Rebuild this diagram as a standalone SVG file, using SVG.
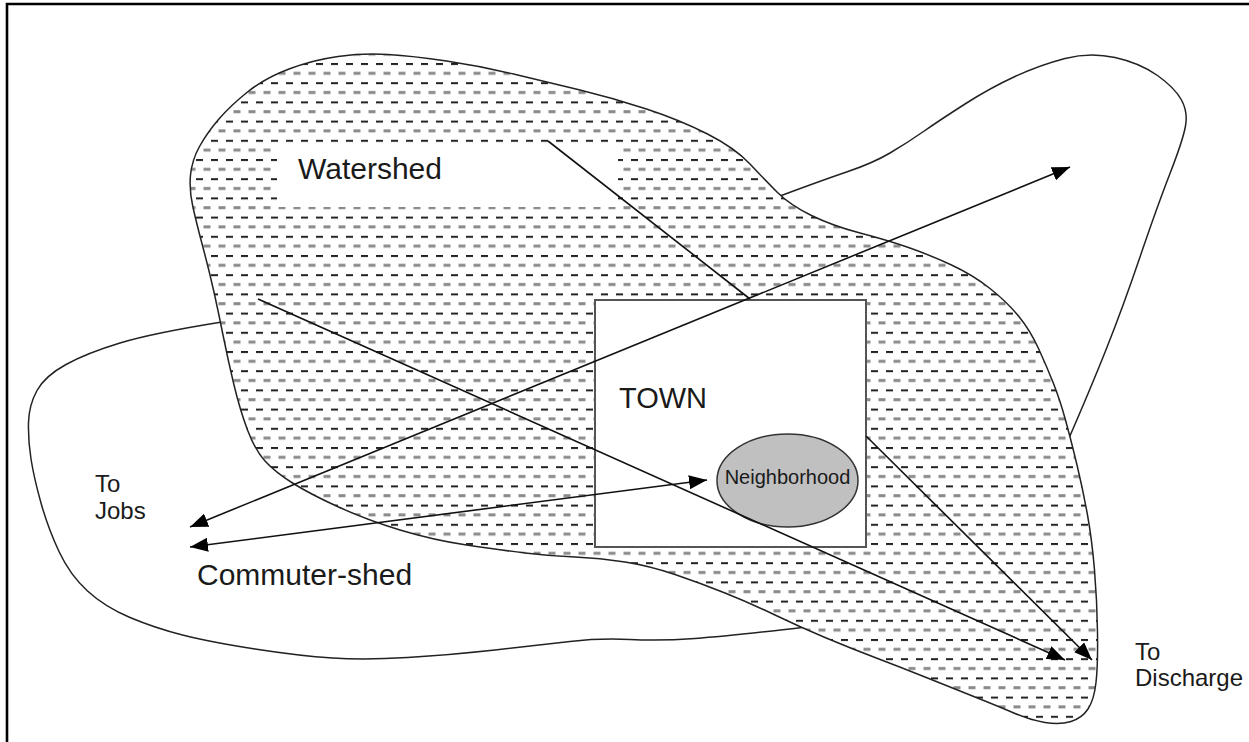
<svg xmlns="http://www.w3.org/2000/svg" width="1249" height="742" viewBox="0 0 1249 742">
<style>
.outline{fill:none;stroke:#222;stroke-width:1.5;stroke-linejoin:round}
.conn{fill:none;stroke:#111;stroke-width:1.6}
.lbl{font-family:"Liberation Sans",Arial,sans-serif;fill:#1a1a1a}
</style>
<defs>
<pattern id="hatch" patternUnits="userSpaceOnUse" x="0" y="5.4" width="15" height="19.2">
<rect x="0" y="0" width="15" height="19.2" fill="#fff"/>
<rect x="1" y="0" width="7" height="2" fill="#222"/>
<rect x="8.5" y="8.8" width="7" height="3" fill="#8a8a8a"/>
<rect x="-6.5" y="8.8" width="7" height="3" fill="#8a8a8a"/>
</pattern>
<marker id="ah" markerWidth="18" markerHeight="14" refX="18" refY="7" orient="auto-start-reverse" markerUnits="userSpaceOnUse">
<path d="M0,0 L18,7 L0,14 z" fill="#000"/>
</marker>
</defs>
<rect x="0" y="0" width="1249" height="742" fill="#fff"/>
<path d="M7,742 V4 H1249" fill="none" stroke="#000" stroke-width="2.6"/>

<g id="commuter-shed">
<path class="outline" d="M222,322 Q153,333 120,343 Q87,353 66,364.5 Q45,376 37,390.5 Q29,405 28.5,422.5 Q28,440 31,459 Q34,478 41,503 Q48,528 59,551.5 Q70,575 87.5,591 Q105,607 130,617.5 Q155,628 182.5,635 Q210,642 255,649 Q300,656 332.5,658 Q365,660 407.5,657.5 Q450,655 495,650 Q540,645 570,641.5 Q600,638 630,639.5 Q660,641 695,638.5 Q730,636 806,627 C650,500 300,400 222,322 Z"/>
</g>
<g id="discharge-shed">
<path class="outline" d="M780,196 Q823,180 848,171.5 Q873,163 890,153 Q907,143 923.5,131.5 Q940,120 965,104 Q990,88 1015,76.5 Q1040,65 1065,58.5 Q1090,52 1115,57.5 Q1140,63 1157.5,75.5 Q1175,88 1181.5,100 Q1188,112 1185.5,126 Q1183,140 1170,173.5 Q1157,207 1140,257 Q1123,307 1106.5,348.5 Q1090,390 1066,445 C1000,420 850,300 780,196 Z"/>
</g>
<g id="watershed">
<path fill="url(#hatch)" stroke="#222" stroke-width="1.5" d="M338,56.5 Q363,53 388,54.5 Q413,56 446.5,61 Q480,66 513.5,74 Q547,82 580,90 Q613,98 646.5,109 Q680,120 707.5,134 Q735,148 750,164 Q765,180 777.5,192.5 Q790,205 811.5,215.5 Q833,226 860,233 Q887,240 908.5,247.5 Q930,255 951.5,265 Q973,275 990,288.5 Q1007,302 1018.5,316 Q1030,330 1038.5,348.5 Q1047,367 1053.5,383.5 Q1060,400 1065.5,420 Q1071,440 1077,465 Q1083,490 1087.5,515 Q1092,540 1094.5,570 Q1097,600 1097.5,632.5 Q1098,665 1096,682.5 Q1094,700 1088,709 Q1082,718 1071,721.5 Q1060,725 1045,722.5 Q1030,720 1015,713.5 Q1000,707 975,697 Q950,687 925,677 Q900,667 875,657.5 Q850,648 825,637.5 Q800,627 775,615 Q750,603 725,593 Q700,583 675,574.5 Q650,566 625,562 Q600,558 575,557 Q550,556 525,553 Q500,550 466.5,545 Q433,540 400,530 Q367,520 338.5,507 Q310,494 292.5,483 Q275,472 265,461 Q255,450 247.5,430 Q240,410 234,385 Q228,360 223,335 Q218,310 213.5,290 Q209,270 203,247.5 Q197,225 193,207.5 Q189,190 190.5,175 Q192,160 199.5,146.5 Q207,133 218.5,119.5 Q230,106 247.5,92 Q265,78 289,69 Q313,60 338,56.5 Z"/>
<rect x="277" y="143" width="341" height="64" fill="#fff"/>
</g>
<g id="town">
<rect x="595" y="300" width="271" height="247" fill="#fff" stroke="#555" stroke-width="2"/>
</g>
<g id="neighborhood">
<ellipse cx="787.5" cy="480.5" rx="70.5" ry="46.5" fill="#c0c0c0" stroke="#333" stroke-width="1.5"/>
</g>

<g id="connectors">
<path class="conn" d="M190,527 L1070,167" marker-start="url(#ah)" marker-end="url(#ah)"/>
<path class="conn" d="M190,547 L707,480" marker-start="url(#ah)" marker-end="url(#ah)"/>
<path class="conn" d="M258,299 L1065,660" marker-end="url(#ah)"/>
<path class="conn" d="M548,141 L750,299"/>
<path class="conn" d="M866,436 L1092,660" marker-end="url(#ah)"/>
</g>

<g id="labels">
<text class="lbl" x="298" y="179" font-size="30">Watershed</text>
<text class="lbl" x="619" y="408" font-size="29">TOWN</text>
<text class="lbl" x="787.5" y="484" font-size="20" text-anchor="middle">Neighborhood</text>
<text class="lbl" x="95" y="492" font-size="24">To</text>
<text class="lbl" x="95" y="519" font-size="24">Jobs</text>
<text class="lbl" x="197" y="585" font-size="30">Commuter-shed</text>
<text class="lbl" x="1135" y="660" font-size="24">To</text>
<text class="lbl" x="1135" y="686" font-size="24">Discharge</text>
</g>
</svg>
